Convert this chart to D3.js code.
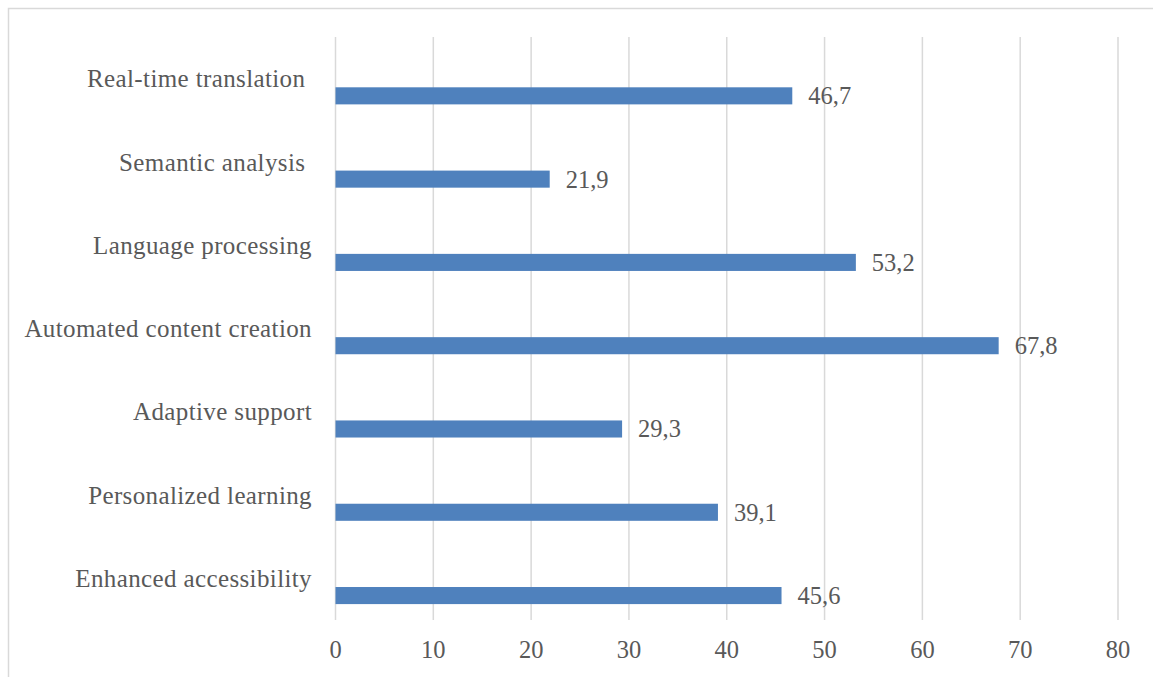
<!DOCTYPE html>
<html>
<head>
<meta charset="utf-8">
<script src="https://cdn.jsdelivr.net/npm/d3@7"></script>
<style>
  html, body { margin: 0; padding: 0; background: #fff; }
  svg text { font-family: "Liberation Serif", "Times New Roman", serif; fill: #595959; white-space: pre; }
</style>
</head>
<body>
<svg id="chart" width="1153" height="677"></svg>
<script>
const categories = [
  "Real-time translation ",
  "Semantic analysis ",
  "Language processing",
  "Automated content creation",
  "Adaptive support",
  "Personalized learning",
  "Enhanced accessibility"
];
const values = [46.7, 21.9, 53.2, 67.8, 29.3, 39.1, 45.6];
const tickValues = [0, 10, 20, 30, 40, 50, 60, 70, 80];

const svg = d3.select("#chart");

// outer border of chart area
svg.append("rect")
  .attr("x", 8.5).attr("y", 8.5)
  .attr("width", 1300).attr("height", 1000)
  .attr("fill", "none").attr("stroke", "#d9d9d9").attr("stroke-width", 1.5);

const x = d3.scaleLinear().domain([0, 80]).range([335.5, 1118]);
const y = d3.scaleBand().domain(categories).range([37, 620]).paddingInner(0).paddingOuter(0);
const bw = y.bandwidth();

// gridlines
svg.append("g").selectAll("line").data(tickValues).join("line")
  .attr("x1", d => x(d)).attr("x2", d => x(d))
  .attr("y1", 37).attr("y2", 620)
  .attr("stroke", "#d9d9d9").attr("stroke-width", 1.5);

// tick labels
svg.append("g").selectAll("text").data(tickValues).join("text")
  .attr("x", d => x(d)).attr("y", 658)
  .attr("text-anchor", "middle")
  .attr("font-size", 24.5)
  .text(d => d);

const data = categories.map((c, i) => ({ c, v: values[i] }));

// bars
svg.append("g").selectAll("rect").data(data).join("rect")
  .attr("x", x(0))
  .attr("y", d => y(d.c) + bw * 0.604)
  .attr("width", d => x(d.v) - x(0))
  .attr("height", bw * 0.205)
  .attr("fill", "#4f81bd");

// value labels
svg.append("g").selectAll("text").data(data).join("text")
  .attr("x", d => x(d.v) + 16)
  .attr("y", d => y(d.c) + bw * 0.706 + 8.5)
  .attr("font-size", 24.5)
  .text(d => d.v.toFixed(1).replace(".", ","));

// category labels
svg.append("g").selectAll("text").data(data).join("text")
  .attr("x", 312)
  .attr("y", d => y(d.c) + bw / 2 + 8.7)
  .attr("text-anchor", "end")
  .attr("font-size", 25)
  .attr("letter-spacing", 0.38)
  .text(d => d.c);
</script>
</body>
</html>
